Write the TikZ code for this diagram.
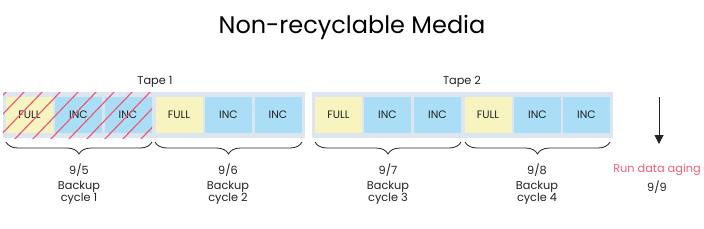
\documentclass[tikz,border=0pt]{standalone}
\usepackage{fontspec}
\setmainfont{Poppins}
\usetikzlibrary{decorations.pathreplacing,arrows.meta}
\definecolor{tapebg}{HTML}{DDE5F0}
\definecolor{fullc}{HTML}{F7F4BF}
\definecolor{incc}{HTML}{AADDF6}
\definecolor{hatchc}{HTML}{EE5470}
\definecolor{agec}{HTML}{F0607A}
\definecolor{txt}{HTML}{222222}
\tikzset{
  tapebox/.style={fill=tapebg, draw=none, minimum height=46pt, inner sep=0pt},
  fullbox/.style={fill=fullc, draw=none, minimum width=47pt, minimum height=36pt, inner sep=0pt, font=\fontsize{10.8}{12}\selectfont, text=txt},
  incbox/.style={fill=incc, draw=none, minimum width=47pt, minimum height=36pt, inner sep=0pt, font=\fontsize{10.8}{12}\selectfont, text=txt},
  lbl/.style={font=\fontsize{11.3}{13}\selectfont, text=txt, inner sep=0pt, align=center},
  bracestyle/.style={decorate, decoration={brace, mirror, amplitude=12pt}, draw=txt, line width=0.8pt},
}
\begin{document}
\begin{tikzpicture}[x=1pt,y=-1pt]
\useasboundingbox (0,0) rectangle (704,228);
\node[font=\fontsize{24}{28}\selectfont, inner sep=0pt] (title) at (352,27) {Non-recyclable Media};
% tapes
\node[tapebox, minimum width=302pt] (tape1) at (154,115) {};
\node[tapebox, minimum width=301pt] (tape2) at (462.5,115) {};
\node[lbl] (t1lbl) at (155,82) {Tape 1};
\node[lbl] (t2lbl) at (462,82) {Tape 2};
% boxes
\node[fullbox] (f1) at (29.5,115) {FULL};
\node[incbox] (i1a) at (78.5,115) {INC};
\node[incbox] (i1b) at (128,115) {INC};
\node[fullbox] (f2) at (179,115) {FULL};
\node[incbox] (i2a) at (228.5,115) {INC};
\node[incbox] (i2b) at (278,115) {INC};
\node[fullbox] (f3) at (338.5,115) {FULL};
\node[incbox] (i3a) at (387.5,115) {INC};
\node[incbox] (i3b) at (437.5,115) {INC};
\node[fullbox] (f4) at (488,115) {FULL};
\node[incbox] (i4a) at (537.5,115) {INC};
\node[incbox] (i4b) at (586.5,115) {INC};
% hatch
\begin{scope}
\clip (3,92) rectangle (152,138);
\foreach \k in {0,...,11}{
  \draw[hatchc, line width=1.1pt] ({-40+18*\k},140) -- ({8+18*\k},90);
}
\end{scope}
% braces
\coordinate (b1s) at (6,142);   \coordinate (b1e) at (152,142);
\coordinate (b2s) at (155,142); \coordinate (b2e) at (302,142);
\coordinate (b3s) at (315,142); \coordinate (b3e) at (461,142);
\coordinate (b4s) at (465,142); \coordinate (b4e) at (610,142);
\draw[bracestyle] (b1s) -- (b1e);
\draw[bracestyle] (b2s) -- (b2e);
\draw[bracestyle] (b3s) -- (b3e);
\draw[bracestyle] (b4s) -- (b4e);
% labels
\node[lbl] (d1) at (79,170) {9/5};
\node[lbl] (c1) at (79,193) {Backup\\[-1.5pt]cycle 1};
\node[lbl] (d2) at (228,170) {9/6};
\node[lbl] (c2) at (228,193) {Backup\\[-1.5pt]cycle 2};
\node[lbl] (d3) at (388,170) {9/7};
\node[lbl] (c3) at (388,193) {Backup\\[-1.5pt]cycle 3};
\node[lbl] (d4) at (537,170) {9/8};
\node[lbl] (c4) at (537,193) {Backup\\[-1.5pt]cycle 4};
% aging
\coordinate (as) at (659,97);
\coordinate (ae) at (659,144);
\draw[txt, line width=1pt, -{Triangle[width=9pt,length=9pt]}] (as) -- (ae);
\node[lbl, text=agec] (age) at (657,170) {Run data aging};
\node[lbl] (d5) at (657,187) {9/9};
\end{tikzpicture}
\end{document}
